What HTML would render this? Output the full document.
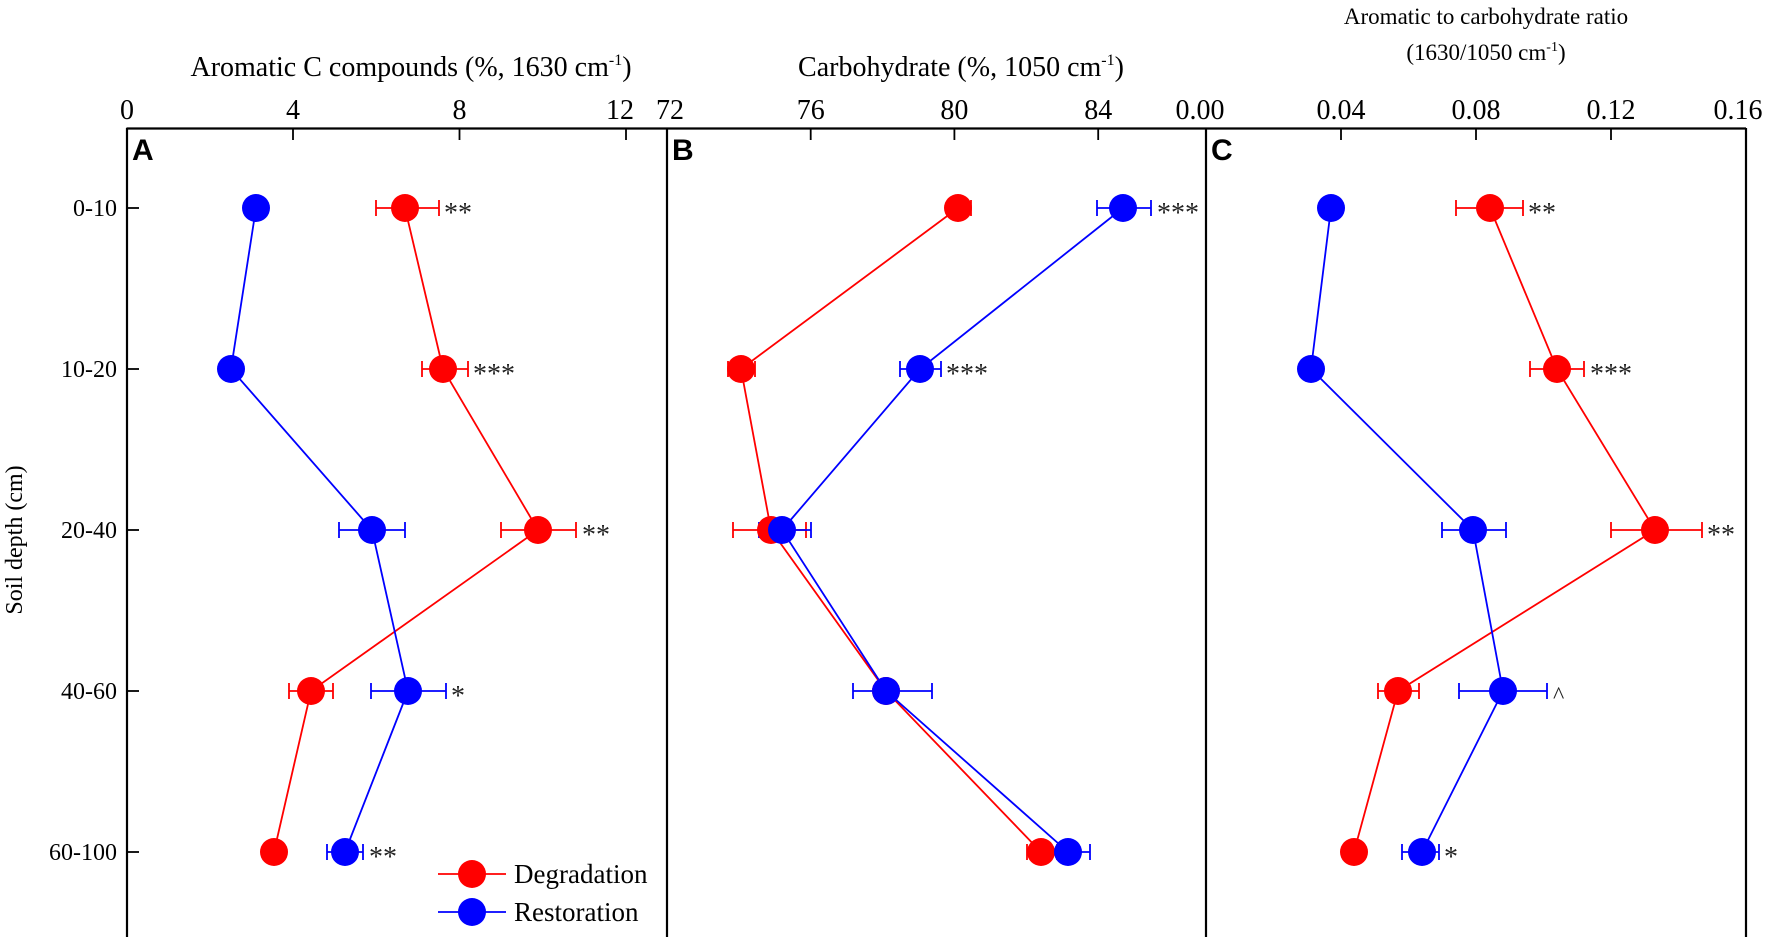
<!DOCTYPE html>
<html><head><meta charset="utf-8"><style>html,body{margin:0;padding:0;background:#fff}svg{display:block}</style></head>
<body>
<svg width="1772" height="937" viewBox="0 0 1772 937" xmlns="http://www.w3.org/2000/svg" font-family="Liberation Serif, serif">
<rect width="1772" height="937" fill="#fff"/>
<g stroke="#000" stroke-width="2.2" fill="none">
<line x1="126.5" y1="128.5" x2="1746" y2="128.5"/>
<line x1="127" y1="128" x2="127" y2="937"/>
<line x1="667" y1="128" x2="667" y2="937"/>
<line x1="1206" y1="128" x2="1206" y2="937"/>
<line x1="1746" y1="128" x2="1746" y2="937"/>
</g>
<g stroke="#000" stroke-width="1.8">
<line x1="293" y1="128" x2="293" y2="140"/><line x1="459.5" y1="128" x2="459.5" y2="140"/><line x1="626" y1="128" x2="626" y2="140"/>
<line x1="810.7" y1="128" x2="810.7" y2="140"/><line x1="954.4" y1="128" x2="954.4" y2="140"/><line x1="1098.2" y1="128" x2="1098.2" y2="140"/>
<line x1="1341" y1="128" x2="1341" y2="140"/><line x1="1476" y1="128" x2="1476" y2="140"/><line x1="1611" y1="128" x2="1611" y2="140"/>
<line x1="127" y1="208" x2="139" y2="208"/><line x1="127" y1="369" x2="139" y2="369"/><line x1="127" y1="530" x2="139" y2="530"/><line x1="127" y1="691" x2="139" y2="691"/><line x1="127" y1="852" x2="139" y2="852"/>
</g>
<g font-size="28" text-anchor="middle" fill="#000">
<text x="127" y="119">0</text><text x="293" y="119">4</text><text x="459.5" y="119">8</text><text x="620" y="119">12</text>
<text x="670" y="119">72</text><text x="810.7" y="119">76</text><text x="954.4" y="119">80</text><text x="1098.2" y="119">84</text>
<text x="1200" y="119">0.00</text><text x="1341" y="119">0.04</text><text x="1476" y="119">0.08</text><text x="1611" y="119">0.12</text><text x="1738" y="119">0.16</text>
</g>
<g font-size="24" text-anchor="end" fill="#000">
<text x="117" y="216">0-10</text><text x="117" y="377">10-20</text><text x="117" y="538">20-40</text><text x="117" y="699">40-60</text><text x="117" y="860">60-100</text>
</g>
<text transform="translate(22,540) rotate(-90)" font-size="24" text-anchor="middle">Soil depth (cm)</text>
<g font-size="28" text-anchor="middle">
<text x="411" y="76">Aromatic C compounds (%, 1630 cm<tspan dy="-11" font-size="16">-1</tspan><tspan dy="11">)</tspan></text>
<text x="961" y="76">Carbohydrate (%, 1050 cm<tspan dy="-11" font-size="16">-1</tspan><tspan dy="11">)</tspan></text>
</g>
<g font-size="23" text-anchor="middle">
<text x="1486" y="24">Aromatic to carbohydrate ratio</text>
<text x="1486" y="60">(1630/1050 cm<tspan dy="-9" font-size="14">-1</tspan><tspan dy="9">)</tspan></text>
</g>
<g font-family="Liberation Sans, sans-serif" font-weight="bold" font-size="30">
<text x="132" y="160">A</text><text x="672" y="160">B</text><text x="1211" y="160">C</text>
</g>
<g stroke-width="1.8" fill="none">
<polyline stroke="#ff0000" points="405,208 443,369 538,530 311,691 274,852"/>
<polyline stroke="#0000ff" points="256,208 231,369 372,530 408,691 345,852"/>
<g stroke="#ff0000"><path d="M376,208H439M376,200v16M439,200v16"/><path d="M422,369H468M422,361v16M468,361v16"/><path d="M501,530H576M501,522v16M576,522v16"/><path d="M289,691H333M289,683v16M333,683v16"/></g>
<g stroke="#0000ff"><path d="M339,530H405M339,522v16M405,522v16"/><path d="M371,691H446M371,683v16M446,683v16"/><path d="M327,852H363M327,844v16M363,844v16"/></g>
</g>
<g fill="#ff0000"><circle cx="405" cy="208" r="14"/><circle cx="443" cy="369" r="14"/><circle cx="538" cy="530" r="14"/><circle cx="311" cy="691" r="14"/><circle cx="274" cy="852" r="14"/></g>
<g fill="#0000ff"><circle cx="256" cy="208" r="14"/><circle cx="231" cy="369" r="14"/><circle cx="372" cy="530" r="14"/><circle cx="408" cy="691" r="14"/><circle cx="345" cy="852" r="14"/></g>
<g stroke-width="1.8" fill="none">
<polyline stroke="#ff0000" points="958,208 741,369 771,530 886,691 1041,852"/>
<polyline stroke="#0000ff" points="1123,208 920,369 782,530 886,691 1068,852"/>
<g stroke="#ff0000"><path d="M947,208H971M971,200v16"/><path d="M728,369H755M728,361v16M755,361v16"/><path d="M733,530H806M733,522v16M806,522v16"/><path d="M1027,852H1057M1027,844v16M1057,844v16"/></g>
<g stroke="#0000ff"><path d="M1097,208H1151M1097,200v16M1151,200v16"/><path d="M900,369H941M900,361v16M941,361v16"/><path d="M759,530H811M759,522v16M811,522v16"/><path d="M853,691H932M853,683v16M932,683v16"/><path d="M1045,852H1090M1045,844v16M1090,844v16"/></g>
</g>
<g fill="#ff0000"><circle cx="958" cy="208" r="14"/><circle cx="741" cy="369" r="14"/><circle cx="771" cy="530" r="14"/><circle cx="886" cy="691" r="14"/><circle cx="1041" cy="852" r="14"/></g>
<g fill="#0000ff"><circle cx="1123" cy="208" r="14"/><circle cx="920" cy="369" r="14"/><circle cx="782" cy="530" r="14"/><circle cx="886" cy="691" r="14"/><circle cx="1068" cy="852" r="14"/></g>
<g stroke-width="1.8" fill="none">
<polyline stroke="#ff0000" points="1490,208 1557,369 1655,530 1398,691 1354,852"/>
<polyline stroke="#0000ff" points="1331,208 1311,369 1473,530 1503,691 1422,852"/>
<g stroke="#ff0000"><path d="M1456,208H1523M1456,200v16M1523,200v16"/><path d="M1530,369H1584M1530,361v16M1584,361v16"/><path d="M1611,530H1702M1611,522v16M1702,522v16"/><path d="M1378,691H1419M1378,683v16M1419,683v16"/></g>
<g stroke="#0000ff"><path d="M1442,530H1506M1442,522v16M1506,522v16"/><path d="M1459,691H1547M1459,683v16M1547,683v16"/><path d="M1402,852H1439M1402,844v16M1439,844v16"/></g>
</g>
<g fill="#ff0000"><circle cx="1490" cy="208" r="14"/><circle cx="1557" cy="369" r="14"/><circle cx="1655" cy="530" r="14"/><circle cx="1398" cy="691" r="14"/><circle cx="1354" cy="852" r="14"/></g>
<g fill="#0000ff"><circle cx="1331" cy="208" r="14"/><circle cx="1311" cy="369" r="14"/><circle cx="1473" cy="530" r="14"/><circle cx="1503" cy="691" r="14"/><circle cx="1422" cy="852" r="14"/></g>
<g font-size="28" fill="#222">
<text x="444" y="222">**</text><text x="473" y="383">***</text><text x="582" y="544">**</text><text x="451" y="705">*</text><text x="369" y="866">**</text>
<text x="1157" y="222">***</text><text x="946" y="383">***</text>
<text x="1528" y="222">**</text><text x="1590" y="383">***</text><text x="1707" y="544">**</text><text x="1553" y="703" font-size="24">^</text><text x="1444" y="866">*</text>
</g>
<g stroke-width="1.8"><line x1="438" y1="874" x2="506" y2="874" stroke="#ff0000"/><line x1="438" y1="912" x2="506" y2="912" stroke="#0000ff"/></g>
<circle cx="472" cy="874" r="14" fill="#ff0000"/><circle cx="472" cy="912" r="14" fill="#0000ff"/>
<g font-size="27"><text x="514" y="883">Degradation</text><text x="514" y="921">Restoration</text></g>
</svg>
</body></html>
